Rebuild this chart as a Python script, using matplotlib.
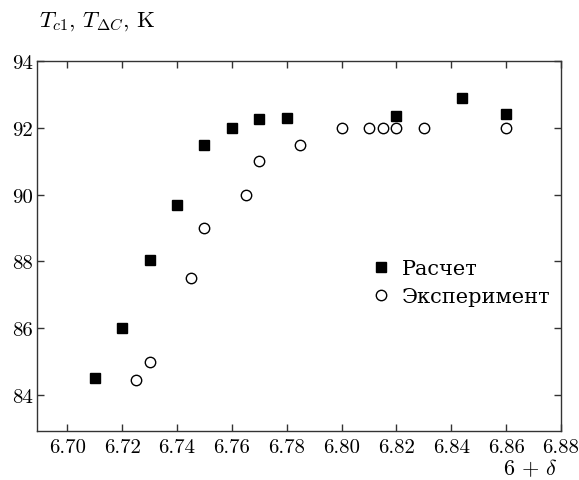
import matplotlib
matplotlib.use('Agg')
import matplotlib.pyplot as plt

plt.rcParams['font.family'] = ['cmr10', 'DejaVu Serif']
plt.rcParams['mathtext.fontset'] = 'cm'
plt.rcParams['axes.formatter.use_mathtext'] = True

# Расчет
x_calc = [6.71, 6.72, 6.73, 6.74, 6.75, 6.76, 6.77, 6.78, 6.82, 6.844, 6.86]
y_calc = [84.5, 86.0, 88.05, 89.7, 91.5, 92.0, 92.25, 92.3, 92.35, 92.9, 92.4]

# Эксперимент
x_exp = [6.725, 6.73, 6.745, 6.75, 6.765, 6.77, 6.785, 6.80, 6.81, 6.815, 6.82, 6.83, 6.86]
y_exp = [84.45, 85.0, 87.5, 89.0, 90.0, 91.0, 91.5, 92.0, 92.0, 92.0, 92.0, 92.0, 92.0]

xticks = [6.70, 6.72, 6.74, 6.76, 6.78, 6.80, 6.82, 6.84, 6.86, 6.88]
yticks = [84, 86, 88, 90, 92, 94]

fig = plt.figure(figsize=(5.79, 4.81), dpi=100)
ax = fig.add_axes([0.064, 0.102, 0.905, 0.769])

ax.plot(x_calc, y_calc, 's', color='black', markersize=7, linestyle='none', label='Расчет')
ax.plot(x_exp, y_exp, 'o', markerfacecolor='white', markeredgecolor='black',
        markeredgewidth=1.0, markersize=7.5, linestyle='none', label='Эксперимент')

ax.set_xlim(6.689, 6.88)
ax.set_ylim(82.92, 94)
ax.set_xticks(xticks)
ax.set_xticklabels([f'{v:.2f}' for v in xticks])
ax.set_yticks(yticks)
ax.set_yticklabels([str(v) for v in yticks])
ax.tick_params(direction='in', top=True, right=True, length=5, width=1,
               labelsize=15, colors='#333333', labelcolor='black')
ax.tick_params(axis='x', pad=5)
ax.tick_params(axis='y', pad=3)
for s in ax.spines.values():
    s.set_color('#333333')
    s.set_linewidth(1.0)

fig.text(0.068, 0.955, r'$T_{c1}$, $T_{\Delta C}$, K', fontsize=16.5, va='center', ha='left')
fig.text(0.963, 0.004, r'$6\,+\,\delta$', fontsize=16, va='bottom', ha='right')

ax.legend(loc='center left', bbox_to_anchor=(0.6, 0.40), frameon=False, fontsize=15,
          handletextpad=0.5, labelspacing=0.45, handlelength=1.0)

fig.savefig('out.png', dpi=100)
